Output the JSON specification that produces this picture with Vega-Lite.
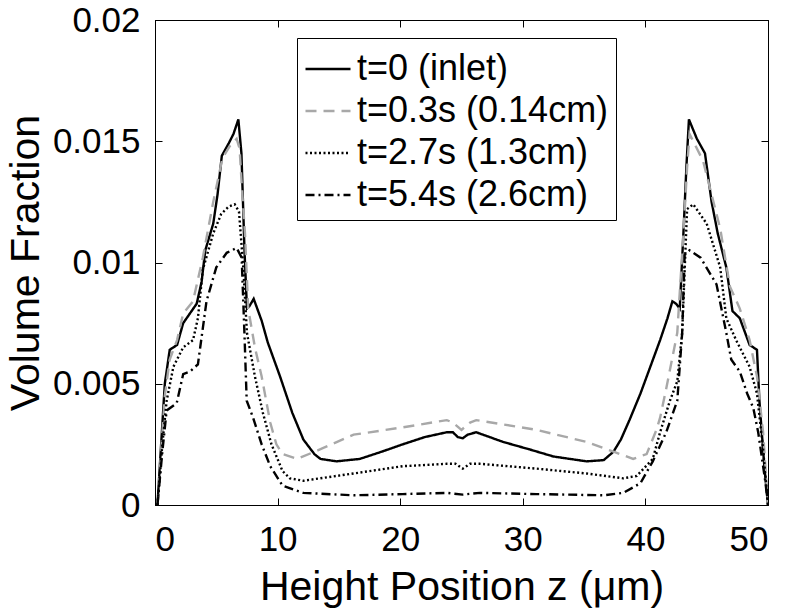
{
  "$schema": "https://vega.github.io/schema/vega-lite/v6.json",
  "autosize": "none",
  "width": 613,
  "height": 485,
  "padding": {"left": 155, "top": 20, "right": 24, "bottom": 109},
  "background": "white",
  "config": {
    "view": {"stroke": "black", "strokeWidth": 1},
    "font": "Liberation Sans",
    "axis": {"grid": false, "domainColor": "black", "tickColor": "black", "labelColor": "black", "titleColor": "black", "labelFont": "Liberation Sans", "titleFont": "Liberation Sans", "labelFontSize": 35, "titleFontSize": 41, "titleFontWeight": "normal", "tickSize": -7, "domainWidth": 1},
    "legend": {"orient": "none", "legendX": 142, "legendY": 18, "fillColor": "white", "strokeColor": "black", "padding": 7, "labelFont": "Liberation Sans", "labelFontSize": 36, "labelColor": "black", "symbolType": "stroke", "symbolSize": 2025, "symbolStrokeWidth": 2.4, "rowPadding": -6, "labelOffset": 5, "labelLimit": 400}
  },
  "data": {"values": [
    {"s":"t=0 (inlet)","z":0.2,"v":0},{"s":"t=0 (inlet)","z":0.5,"v":0.0025},{"s":"t=0 (inlet)","z":0.8,"v":0.005},{"s":"t=0 (inlet)","z":1.2,"v":0.0064},{"s":"t=0 (inlet)","z":1.8,"v":0.0066},{"s":"t=0 (inlet)","z":2.3,"v":0.0075},{"s":"t=0 (inlet)","z":2.85,"v":0.0079},{"s":"t=0 (inlet)","z":3.4,"v":0.0083},{"s":"t=0 (inlet)","z":3.8,"v":0.0092},{"s":"t=0 (inlet)","z":4.1,"v":0.0105},{"s":"t=0 (inlet)","z":4.75,"v":0.0116},{"s":"t=0 (inlet)","z":5.1,"v":0.0128},{"s":"t=0 (inlet)","z":5.45,"v":0.0144},{"s":"t=0 (inlet)","z":6.0,"v":0.0149},{"s":"t=0 (inlet)","z":6.4,"v":0.0153},{"s":"t=0 (inlet)","z":6.8,"v":0.0159},{"s":"t=0 (inlet)","z":7.05,"v":0.0145},{"s":"t=0 (inlet)","z":7.3,"v":0.0105},{"s":"t=0 (inlet)","z":7.5,"v":0.0081},{"s":"t=0 (inlet)","z":7.7,"v":0.0082},{"s":"t=0 (inlet)","z":8.05,"v":0.0085},{"s":"t=0 (inlet)","z":8.7,"v":0.0076},{"s":"t=0 (inlet)","z":9.2,"v":0.0067},{"s":"t=0 (inlet)","z":10.2,"v":0.0053},{"s":"t=0 (inlet)","z":11.2,"v":0.0038},{"s":"t=0 (inlet)","z":12.1,"v":0.0027},{"s":"t=0 (inlet)","z":13.0,"v":0.0021},{"s":"t=0 (inlet)","z":13.5,"v":0.0019},{"s":"t=0 (inlet)","z":14.8,"v":0.0018},{"s":"t=0 (inlet)","z":16.7,"v":0.0019},{"s":"t=0 (inlet)","z":18.5,"v":0.0022},{"s":"t=0 (inlet)","z":20.2,"v":0.0025},{"s":"t=0 (inlet)","z":22,"v":0.0028},{"s":"t=0 (inlet)","z":23.8,"v":0.003},{"s":"t=0 (inlet)","z":24.3,"v":0.003},{"s":"t=0 (inlet)","z":24.7,"v":0.0028},{"s":"t=0 (inlet)","z":25.1,"v":0.00275},{"s":"t=0 (inlet)","z":25.5,"v":0.0029},{"s":"t=0 (inlet)","z":26.2,"v":0.003},{"s":"t=0 (inlet)","z":28.4,"v":0.0026},{"s":"t=0 (inlet)","z":30.5,"v":0.0023},{"s":"t=0 (inlet)","z":32.5,"v":0.002},{"s":"t=0 (inlet)","z":35.2,"v":0.0018},{"s":"t=0 (inlet)","z":36.6,"v":0.00185},{"s":"t=0 (inlet)","z":37.4,"v":0.0022},{"s":"t=0 (inlet)","z":38.0,"v":0.0027},{"s":"t=0 (inlet)","z":38.7,"v":0.0035},{"s":"t=0 (inlet)","z":39.6,"v":0.0046},{"s":"t=0 (inlet)","z":40.4,"v":0.0057},{"s":"t=0 (inlet)","z":41.2,"v":0.0068},{"s":"t=0 (inlet)","z":41.8,"v":0.0077},{"s":"t=0 (inlet)","z":42.2,"v":0.0084},{"s":"t=0 (inlet)","z":42.5,"v":0.0083},{"s":"t=0 (inlet)","z":42.8,"v":0.0081},{"s":"t=0 (inlet)","z":43.1,"v":0.0112},{"s":"t=0 (inlet)","z":43.35,"v":0.014},{"s":"t=0 (inlet)","z":43.55,"v":0.0159},{"s":"t=0 (inlet)","z":44.2,"v":0.0151},{"s":"t=0 (inlet)","z":44.86,"v":0.0145},{"s":"t=0 (inlet)","z":45.4,"v":0.0125},{"s":"t=0 (inlet)","z":45.9,"v":0.0112},{"s":"t=0 (inlet)","z":46.6,"v":0.0098},{"s":"t=0 (inlet)","z":47.1,"v":0.008},{"s":"t=0 (inlet)","z":47.7,"v":0.0077},{"s":"t=0 (inlet)","z":48.5,"v":0.0066},{"s":"t=0 (inlet)","z":49.1,"v":0.0064},{"s":"t=0 (inlet)","z":49.3,"v":0.0043},{"s":"t=0 (inlet)","z":49.7,"v":0.0016},{"s":"t=0 (inlet)","z":50,"v":0},

    {"s":"t=0.3s (0.14cm)","z":0.2,"v":0},{"s":"t=0.3s (0.14cm)","z":0.5,"v":0.0022},{"s":"t=0.3s (0.14cm)","z":0.8,"v":0.0045},{"s":"t=0.3s (0.14cm)","z":1.2,"v":0.006},{"s":"t=0.3s (0.14cm)","z":1.8,"v":0.0068},{"s":"t=0.3s (0.14cm)","z":2.3,"v":0.0079},{"s":"t=0.3s (0.14cm)","z":3.1,"v":0.0084},{"s":"t=0.3s (0.14cm)","z":3.9,"v":0.0102},{"s":"t=0.3s (0.14cm)","z":4.75,"v":0.0125},{"s":"t=0.3s (0.14cm)","z":5.5,"v":0.0143},{"s":"t=0.3s (0.14cm)","z":6.1,"v":0.0148},{"s":"t=0.3s (0.14cm)","z":6.66,"v":0.0151},{"s":"t=0.3s (0.14cm)","z":6.9,"v":0.0147},{"s":"t=0.3s (0.14cm)","z":7.1,"v":0.013},{"s":"t=0.3s (0.14cm)","z":7.34,"v":0.0112},{"s":"t=0.3s (0.14cm)","z":7.6,"v":0.0081},{"s":"t=0.3s (0.14cm)","z":8.15,"v":0.0065},{"s":"t=0.3s (0.14cm)","z":8.7,"v":0.0053},{"s":"t=0.3s (0.14cm)","z":9.4,"v":0.0034},{"s":"t=0.3s (0.14cm)","z":9.9,"v":0.0025},{"s":"t=0.3s (0.14cm)","z":10.4,"v":0.0021},{"s":"t=0.3s (0.14cm)","z":11.6,"v":0.0019},{"s":"t=0.3s (0.14cm)","z":13.5,"v":0.0023},{"s":"t=0.3s (0.14cm)","z":16.2,"v":0.0029},{"s":"t=0.3s (0.14cm)","z":20.2,"v":0.0032},{"s":"t=0.3s (0.14cm)","z":23.8,"v":0.0035},{"s":"t=0.3s (0.14cm)","z":24.3,"v":0.0034},{"s":"t=0.3s (0.14cm)","z":25.0,"v":0.0031},{"s":"t=0.3s (0.14cm)","z":25.7,"v":0.0034},{"s":"t=0.3s (0.14cm)","z":26.2,"v":0.0035},{"s":"t=0.3s (0.14cm)","z":31.1,"v":0.0031},{"s":"t=0.3s (0.14cm)","z":35.2,"v":0.0026},{"s":"t=0.3s (0.14cm)","z":37.4,"v":0.0022},{"s":"t=0.3s (0.14cm)","z":39.0,"v":0.0019},{"s":"t=0.3s (0.14cm)","z":40.1,"v":0.0021},{"s":"t=0.3s (0.14cm)","z":40.9,"v":0.0031},{"s":"t=0.3s (0.14cm)","z":41.2,"v":0.0036},{"s":"t=0.3s (0.14cm)","z":41.7,"v":0.0048},{"s":"t=0.3s (0.14cm)","z":42.6,"v":0.0071},{"s":"t=0.3s (0.14cm)","z":43.1,"v":0.0112},{"s":"t=0.3s (0.14cm)","z":43.4,"v":0.0139},{"s":"t=0.3s (0.14cm)","z":43.6,"v":0.0153},{"s":"t=0.3s (0.14cm)","z":44.7,"v":0.0142},{"s":"t=0.3s (0.14cm)","z":45.4,"v":0.0128},{"s":"t=0.3s (0.14cm)","z":46.1,"v":0.0114},{"s":"t=0.3s (0.14cm)","z":46.9,"v":0.009},{"s":"t=0.3s (0.14cm)","z":47.7,"v":0.0081},{"s":"t=0.3s (0.14cm)","z":48.5,"v":0.0068},{"s":"t=0.3s (0.14cm)","z":49.1,"v":0.0053},{"s":"t=0.3s (0.14cm)","z":49.6,"v":0.003},{"s":"t=0.3s (0.14cm)","z":50,"v":0},

    {"s":"t=2.7s (1.3cm)","z":0.2,"v":0},{"s":"t=2.7s (1.3cm)","z":0.6,"v":0.0025},{"s":"t=2.7s (1.3cm)","z":0.95,"v":0.0043},{"s":"t=2.7s (1.3cm)","z":1.5,"v":0.0057},{"s":"t=2.7s (1.3cm)","z":2.3,"v":0.0065},{"s":"t=2.7s (1.3cm)","z":3.1,"v":0.0068},{"s":"t=2.7s (1.3cm)","z":3.5,"v":0.0077},{"s":"t=2.7s (1.3cm)","z":3.9,"v":0.0097},{"s":"t=2.7s (1.3cm)","z":4.75,"v":0.0112},{"s":"t=2.7s (1.3cm)","z":5.4,"v":0.012},{"s":"t=2.7s (1.3cm)","z":6.0,"v":0.0123},{"s":"t=2.7s (1.3cm)","z":6.5,"v":0.0124},{"s":"t=2.7s (1.3cm)","z":6.85,"v":0.0121},{"s":"t=2.7s (1.3cm)","z":7.2,"v":0.0098},{"s":"t=2.7s (1.3cm)","z":7.5,"v":0.0071},{"s":"t=2.7s (1.3cm)","z":8.15,"v":0.0053},{"s":"t=2.7s (1.3cm)","z":8.8,"v":0.0038},{"s":"t=2.7s (1.3cm)","z":9.5,"v":0.0025},{"s":"t=2.7s (1.3cm)","z":10.4,"v":0.0014},{"s":"t=2.7s (1.3cm)","z":11.0,"v":0.0011},{"s":"t=2.7s (1.3cm)","z":12.1,"v":0.001},{"s":"t=2.7s (1.3cm)","z":16.2,"v":0.0013},{"s":"t=2.7s (1.3cm)","z":20.2,"v":0.0016},{"s":"t=2.7s (1.3cm)","z":23.8,"v":0.0017},{"s":"t=2.7s (1.3cm)","z":24.5,"v":0.0017},{"s":"t=2.7s (1.3cm)","z":25.1,"v":0.0015},{"s":"t=2.7s (1.3cm)","z":25.7,"v":0.0017},{"s":"t=2.7s (1.3cm)","z":26.5,"v":0.0017},{"s":"t=2.7s (1.3cm)","z":31.1,"v":0.0015},{"s":"t=2.7s (1.3cm)","z":35.2,"v":0.0013},{"s":"t=2.7s (1.3cm)","z":38.2,"v":0.0011},{"s":"t=2.7s (1.3cm)","z":39.3,"v":0.0012},{"s":"t=2.7s (1.3cm)","z":40.6,"v":0.0019},{"s":"t=2.7s (1.3cm)","z":41.2,"v":0.003},{"s":"t=2.7s (1.3cm)","z":42.0,"v":0.0043},{"s":"t=2.7s (1.3cm)","z":42.6,"v":0.0051},{"s":"t=2.7s (1.3cm)","z":43.0,"v":0.0071},{"s":"t=2.7s (1.3cm)","z":43.4,"v":0.0122},{"s":"t=2.7s (1.3cm)","z":43.9,"v":0.0124},{"s":"t=2.7s (1.3cm)","z":45.0,"v":0.0116},{"s":"t=2.7s (1.3cm)","z":46.1,"v":0.0098},{"s":"t=2.7s (1.3cm)","z":46.6,"v":0.0077},{"s":"t=2.7s (1.3cm)","z":47.4,"v":0.0068},{"s":"t=2.7s (1.3cm)","z":48.5,"v":0.0057},{"s":"t=2.7s (1.3cm)","z":49.1,"v":0.0046},{"s":"t=2.7s (1.3cm)","z":49.6,"v":0.0023},{"s":"t=2.7s (1.3cm)","z":50,"v":0},

    {"s":"t=5.4s (2.6cm)","z":0.2,"v":0},{"s":"t=5.4s (2.6cm)","z":0.6,"v":0.0022},{"s":"t=5.4s (2.6cm)","z":0.95,"v":0.0039},{"s":"t=5.4s (2.6cm)","z":1.77,"v":0.0042},{"s":"t=5.4s (2.6cm)","z":2.3,"v":0.0054},{"s":"t=5.4s (2.6cm)","z":2.85,"v":0.0055},{"s":"t=5.4s (2.6cm)","z":3.5,"v":0.0058},{"s":"t=5.4s (2.6cm)","z":4.2,"v":0.0084},{"s":"t=5.4s (2.6cm)","z":5.0,"v":0.0098},{"s":"t=5.4s (2.6cm)","z":5.85,"v":0.0104},{"s":"t=5.4s (2.6cm)","z":6.66,"v":0.0106},{"s":"t=5.4s (2.6cm)","z":7.07,"v":0.0102},{"s":"t=5.4s (2.6cm)","z":7.3,"v":0.007},{"s":"t=5.4s (2.6cm)","z":7.48,"v":0.0043},{"s":"t=5.4s (2.6cm)","z":8.0,"v":0.0036},{"s":"t=5.4s (2.6cm)","z":8.7,"v":0.0025},{"s":"t=5.4s (2.6cm)","z":9.4,"v":0.0016},{"s":"t=5.4s (2.6cm)","z":10.4,"v":0.0008},{"s":"t=5.4s (2.6cm)","z":12.1,"v":0.0005},{"s":"t=5.4s (2.6cm)","z":16.2,"v":0.0004},{"s":"t=5.4s (2.6cm)","z":20.2,"v":0.00045},{"s":"t=5.4s (2.6cm)","z":23.8,"v":0.0005},{"s":"t=5.4s (2.6cm)","z":25.1,"v":0.00043},{"s":"t=5.4s (2.6cm)","z":26.5,"v":0.0005},{"s":"t=5.4s (2.6cm)","z":31.1,"v":0.00045},{"s":"t=5.4s (2.6cm)","z":36.6,"v":0.0004},{"s":"t=5.4s (2.6cm)","z":38.2,"v":0.0005},{"s":"t=5.4s (2.6cm)","z":39.6,"v":0.0009},{"s":"t=5.4s (2.6cm)","z":40.6,"v":0.0018},{"s":"t=5.4s (2.6cm)","z":41.7,"v":0.003},{"s":"t=5.4s (2.6cm)","z":42.6,"v":0.0043},{"s":"t=5.4s (2.6cm)","z":43.0,"v":0.0071},{"s":"t=5.4s (2.6cm)","z":43.2,"v":0.0103},{"s":"t=5.4s (2.6cm)","z":43.6,"v":0.0105},{"s":"t=5.4s (2.6cm)","z":44.5,"v":0.0102},{"s":"t=5.4s (2.6cm)","z":45.8,"v":0.0091},{"s":"t=5.4s (2.6cm)","z":46.6,"v":0.0071},{"s":"t=5.4s (2.6cm)","z":47.0,"v":0.006},{"s":"t=5.4s (2.6cm)","z":47.7,"v":0.0055},{"s":"t=5.4s (2.6cm)","z":48.3,"v":0.0046},{"s":"t=5.4s (2.6cm)","z":48.8,"v":0.004},{"s":"t=5.4s (2.6cm)","z":49.2,"v":0.003},{"s":"t=5.4s (2.6cm)","z":49.8,"v":0.0009},{"s":"t=5.4s (2.6cm)","z":50,"v":0}
  ]},
  "resolve": {"axis": {"x": "independent", "y": "independent"}},
  "layer": [
    {
      "mark": {"type": "line", "strokeWidth": 2.4, "clip": true},
      "encoding": {
        "x": {"field": "z", "type": "quantitative", "scale": {"domain": [0, 50], "nice": false, "zero": false},
              "axis": {"values": [0, 10, 20, 30, 40, 50], "title": "Height Position z (μm)", "labelPadding": 24, "titlePadding": 10}},
        "y": {"field": "v", "type": "quantitative", "scale": {"domain": [0, 0.02], "nice": false, "zero": false},
              "axis": {"values": [0, 0.005, 0.01, 0.015, 0.02], "format": "~g", "title": "Volume Fraction", "labelPadding": 22, "titlePadding": 5}},
        "color": {"field": "s", "type": "nominal", "sort": null,
                  "scale": {"domain": ["t=0 (inlet)", "t=0.3s (0.14cm)", "t=2.7s (1.3cm)", "t=5.4s (2.6cm)"], "range": ["#000000", "#a8a8a8", "#000000", "#000000"]},
                  "legend": {"title": null}},
        "strokeDash": {"field": "s", "type": "nominal", "sort": null,
                  "scale": {"domain": ["t=0 (inlet)", "t=0.3s (0.14cm)", "t=2.7s (1.3cm)", "t=5.4s (2.6cm)"], "range": [[1, 0], [11, 7], [2, 2.5], [9, 4, 2, 4]]},
                  "legend": {"title": null}}
      }
    },
    {
      "mark": {"type": "line", "opacity": 0},
      "encoding": {
        "x": {"field": "z", "type": "quantitative", "scale": {"domain": [0, 50], "nice": false, "zero": false}, "axis": {"orient": "top", "values": [0, 10, 20, 30, 40, 50], "labels": false, "title": null}},
        "y": {"field": "v", "type": "quantitative", "scale": {"domain": [0, 0.02], "nice": false, "zero": false}, "axis": {"orient": "right", "values": [0, 0.005, 0.01, 0.015, 0.02], "labels": false, "title": null}},
        "detail": {"field": "s", "type": "nominal"}
      }
    }
  ]
}
